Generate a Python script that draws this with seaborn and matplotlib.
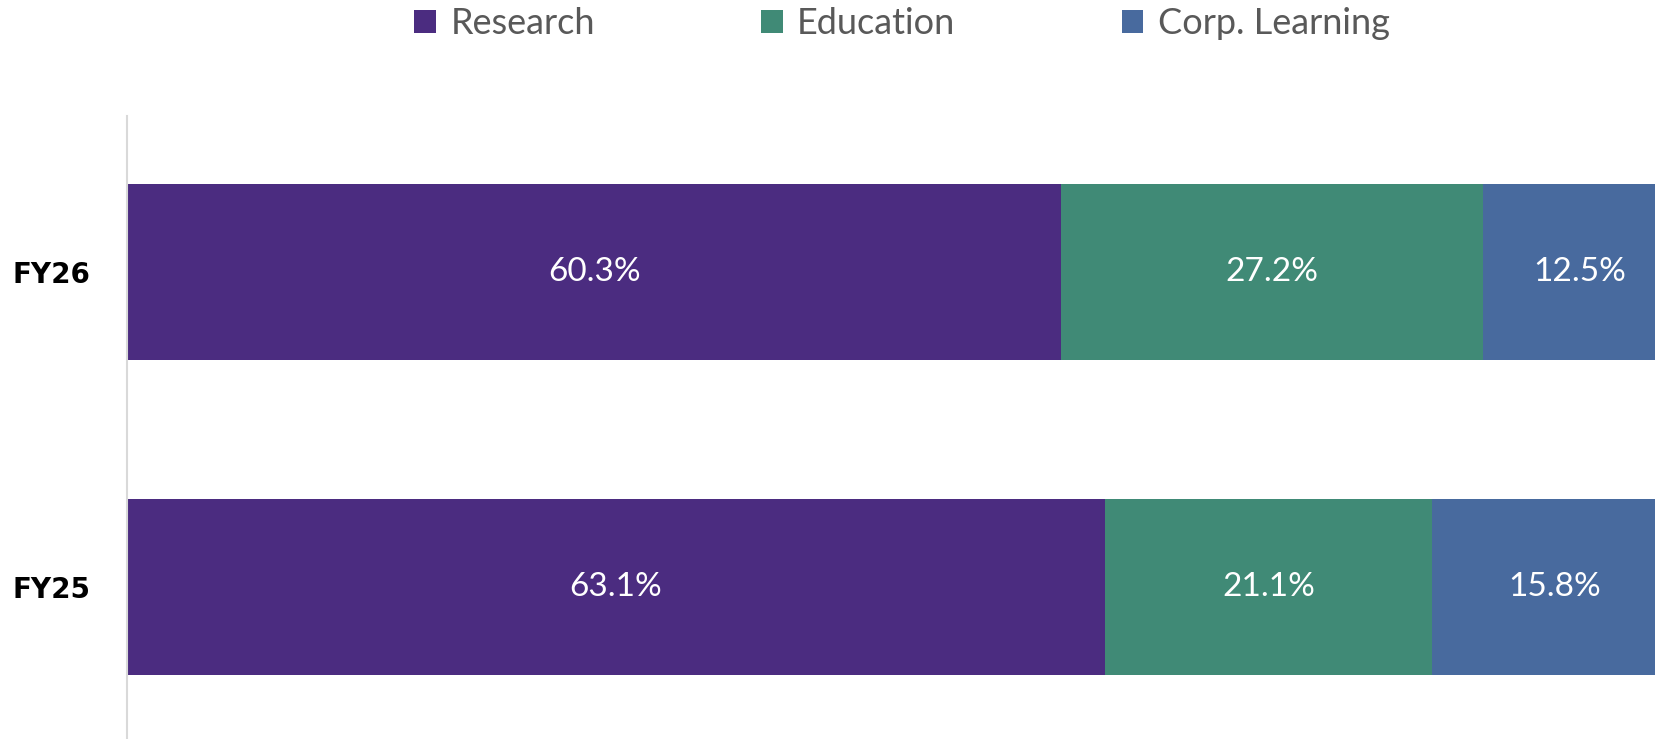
import matplotlib
matplotlib.use('Agg')
import matplotlib.pyplot as plt
from matplotlib.patches import Patch
import seaborn as sns
import pandas as pd

# data (percent of total)
years = ['FY26', 'FY25']
segments = ['Research', 'Education', 'Corp. Learning']
research = [60.3, 63.1]
education = [27.2, 21.1]
corp_learning = [12.5, 15.8]
colors = ['#4B2C80', '#408A76', '#486A9E']

df = pd.DataFrame({'year': years, 'Research': research,
                   'Education': education, 'Corp. Learning': corp_learning})

sns.set_theme(style='white')
plt.rcParams['font.family'] = ['Lato', 'DejaVu Sans']

fig = plt.figure(figsize=(16.55, 7.39), dpi=100)
ax = fig.add_axes([0.0767, 0.0, 0.9233, 0.843])

# stacked bars: draw cumulative totals, widest first
cum = df[segments].cumsum(axis=1)
for seg, col in reversed(list(zip(segments, colors))):
    sns.barplot(data=cum.assign(year=df['year']), x=seg, y='year', order=years,
                color=col, saturation=1, width=0.56, orient='h', linewidth=0,
                edgecolor='none', ax=ax)

# value labels in the middle of each segment
for i, yr in enumerate(years):
    for seg in segments:
        val = df.loc[i, seg]
        xc = cum.loc[i, seg] - val / 2
        ax.text(xc, i, f'{val:.1f}%', color='white', fontsize=24,
                ha='center', va='center')

ax.set_xlim(0, 98.6)
ax.set_ylim(1.483, -0.495)
ax.set_xlabel('')
ax.set_ylabel('')
ax.set_xticks([])
for s in ['top', 'right', 'bottom']:
    ax.spines[s].set_visible(False)
ax.spines['left'].set_color('#D9D9D9')
ax.spines['left'].set_linewidth(1.5)
ax.tick_params(axis='y', length=0, pad=26)
for lbl in ax.get_yticklabels():
    lbl.set_family('DejaVu Sans')
    lbl.set_fontweight('bold')
    lbl.set_fontsize(20)
    lbl.set_color('black')

handles = [Patch(facecolor=c, edgecolor='none', label=s) for s, c in zip(segments, colors)]
leg = fig.legend(handles=handles, loc='center', bbox_to_anchor=(0.545, 0.968), ncol=3,
                 frameon=False, fontsize=26, handlelength=0.6, handleheight=0.6,
                 handletextpad=0.4, columnspacing=4.6)
for t in leg.get_texts():
    t.set_color('#595959')

fig.savefig('out.png', dpi=100)
